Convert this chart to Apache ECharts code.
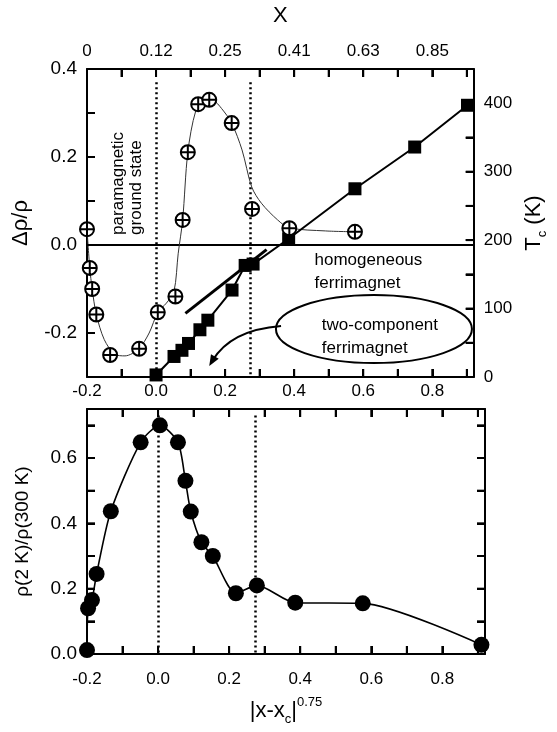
<!DOCTYPE html>
<html>
<head>
<meta charset="utf-8">
<script src="https://cdn.jsdelivr.net/npm/echarts@6/dist/echarts.min.js"></script>
<style>
html, body { margin: 0; padding: 0; background: #fff; }
#main { width: 557px; height: 732px; }
</style>
</head>
<body>
<div id="main"></div>
<script>
var FONT = 'Liberation Sans';

/* top panel: delta rho / rho (crossed circles) */
var drX = [-0.2, -0.192, -0.185, -0.173, -0.133, -0.049, 0.005, 0.056, 0.077, 0.092, 0.122, 0.154, 0.219, 0.278, 0.386, 0.576];
var drY = [0.036, -0.052, -0.100, -0.158, -0.250, -0.236, -0.153, -0.117, 0.057, 0.211, 0.320, 0.330, 0.277, 0.082, 0.038, 0.030];
/* thin guide curve through the circles */
var guideX = [-0.2, -0.192, -0.185, -0.173, -0.15, -0.12, -0.09, -0.05, -0.02, 0.005, 0.03, 0.052, 0.064, 0.077, 0.092, 0.115, 0.14, 0.165, 0.19, 0.219, 0.249, 0.277, 0.305, 0.352, 0.386, 0.49, 0.576];
var guideY = [0.036, -0.052, -0.100, -0.158, -0.215, -0.248, -0.252, -0.236, -0.200, -0.153, -0.132, -0.105, -0.020, 0.057, 0.211, 0.305, 0.333, 0.330, 0.310, 0.277, 0.216, 0.132, 0.095, 0.057, 0.039, 0.032, 0.030];
/* Tc (squares, right axis) */
var tcX = [0.0, 0.052, 0.075, 0.094, 0.127, 0.150, 0.220, 0.258, 0.281, 0.384, 0.576, 0.749, 0.902];
var tcY = [3, 30, 39, 49, 69, 83, 127, 163, 165, 202, 275, 336, 397];
/* bold straight line */
var fitX = [0.085, 0.32];
var fitY = [93, 186];
/* bottom panel: rho(2K)/rho(300K) */
var ratX = [-0.2, -0.197, -0.186, -0.173, -0.133, -0.049, 0.005, 0.056, 0.077, 0.092, 0.122, 0.154, 0.219, 0.278, 0.386, 0.576, 0.91];
var ratY = [0.012, 0.140, 0.165, 0.245, 0.437, 0.648, 0.700, 0.648, 0.530, 0.436, 0.342, 0.300, 0.186, 0.210, 0.157, 0.155, 0.028];
/* dotted phase boundaries */
var xcLines = [0, 0.274];
/* upper axis: x values */
var topTickPos = [-0.2, 0, 0.2, 0.4, 0.6, 0.8];
var topTickText = ['0', '0.12', '0.25', '0.41', '0.63', '0.85'];

/* axis ranges */
var X_MIN = -0.2, X_MAX = 0.92, X_STEP = 0.1;
var DR_MIN = -0.3, DR_MAX = 0.4, DR_STEP = 0.1;
var TC_MIN = 0, TC_MAX = 450, TC_STEP = 50;
var R_MIN = 0, R_MAX = 0.75, R_STEP = 0.1;

var myChart = echarts.init(document.getElementById('main'));

function pairs(xs, ys) {
  var out = [];
  for (var i = 0; i < xs.length; i++) out.push([xs[i], ys[i]]);
  return out;
}
function tenths(v) {
  var k = Math.round(v * 10);
  if (Math.abs(v * 10 - k) > 1e-6 || k % 2 !== 0) return '';
  return (k / 10).toFixed(1);
}
function hundreds(v) {
  return (v % 100 === 0) ? String(v) : '';
}
function topLabel(v) {
  for (var i = 0; i < topTickPos.length; i++) {
    if (Math.abs(v - topTickPos[i]) < 1e-6) return topTickText[i];
  }
  return '';
}
function dotted(ys, y0, y1) {
  var d = [];
  for (var i = 0; i < ys.length; i++) d.push([{ coord: [ys[i], y0] }, { coord: [ys[i], y1] }]);
  return d;
}

function axis(o) {
  var a = {
    type: 'value',
    axisLine: { onZero: false, lineStyle: { color: '#000', width: 2 } },
    axisTick: { show: true, inside: true, length: 8, lineStyle: { color: '#000', width: 2 } },
    axisLabel: { color: '#000', fontFamily: FONT, fontSize: 17 },
    splitLine: { show: false }
  };
  for (var k in o) {
    if (k === 'axisLabel') {
      for (var j in o[k]) a.axisLabel[j] = o[k][j];
    } else a[k] = o[k];
  }
  return a;
}

var richT = {
  a: { fontSize: 22, fontFamily: FONT, color: '#000', lineHeight: 30, verticalAlign: 'middle' },
  s: { fontSize: 13, fontFamily: FONT, color: '#000', lineHeight: 14, verticalAlign: 'bottom' },
  p: { fontSize: 13, fontFamily: FONT, color: '#000', lineHeight: 14, verticalAlign: 'top' }
};

// ring with a cross, drawn in a 14x14 box so the stroke is not rescaled
var CROSS_CIRCLE = 'path://M0,7A7,7,0,1,1,14,7A7,7,0,1,1,0,7ZM0,7L14,7M7,0L7,14';

option = {
  animation: false,
  grid: [
    { left: 87, right: 72, top: 69, height: 308 },
    { left: 87, right: 72, top: 409, height: 245 }
  ],
  xAxis: [
    axis({ gridIndex: 0, position: 'bottom', min: X_MIN, max: X_MAX, interval: X_STEP,
      axisLabel: { formatter: tenths, margin: 6 } }),
    axis({ gridIndex: 0, position: 'top', min: X_MIN, max: X_MAX, interval: X_STEP,
      axisLabel: { formatter: topLabel, margin: 9 },
      name: 'X', nameLocation: 'middle', nameGap: 42,
      nameTextStyle: { fontSize: 22, fontFamily: FONT, color: '#000' } }),
    axis({ gridIndex: 1, position: 'bottom', min: X_MIN, max: X_MAX, interval: X_STEP,
      axisLabel: { formatter: tenths, margin: 17 },
      name: '{a||x-x}{s|c}{a||}{p|0.75}', nameLocation: 'middle', nameGap: 42,
      nameTextStyle: { rich: richT } }),
    axis({ gridIndex: 1, position: 'top', min: X_MIN, max: X_MAX, interval: X_STEP,
      axisLabel: { show: false } })
  ],
  yAxis: [
    axis({ gridIndex: 0, position: 'left', min: DR_MIN, max: DR_MAX, interval: DR_STEP,
      axisLabel: { formatter: tenths, margin: 10, fontSize: 19 },
      name: '\u0394\u03c1/\u03c1', nameLocation: 'middle', nameGap: 55, nameRotate: 90,
      nameTextStyle: { fontSize: 22, fontFamily: FONT, color: '#000' } }),
    axis({ gridIndex: 0, position: 'right', min: TC_MIN, max: TC_MAX, interval: TC_STEP,
      axisLabel: { formatter: hundreds, margin: 10 },
      name: '{a|T}{s|c}{a| (K)}', nameLocation: 'middle', nameGap: 42, nameRotate: 90,
      nameTextStyle: { rich: richT } }),
    axis({ gridIndex: 1, position: 'left', min: R_MIN, max: R_MAX, interval: R_STEP,
      axisLabel: { formatter: tenths, margin: 10, fontSize: 19 },
      name: '\u03c1(2 K)/\u03c1(300 K)', nameLocation: 'middle', nameGap: 55, nameRotate: 90,
      nameTextStyle: { fontSize: 19, fontFamily: FONT, color: '#000' } }),
    axis({ gridIndex: 1, position: 'right', min: R_MIN, max: R_MAX, interval: R_STEP,
      axisLabel: { show: false } })
  ],
  series: [
    {
      type: 'line', xAxisIndex: 0, yAxisIndex: 0, z: 1, silent: true,
      data: pairs(guideX, guideY), smooth: 0.3, symbol: 'none',
      lineStyle: { color: '#333', width: 1 },
      markLine: {
        silent: true, symbol: 'none', z: 1, label: { show: false },
        lineStyle: { color: '#000', width: 2, type: 'solid' },
        data: [{ yAxis: 0 }]
      }
    },
    {
      type: 'scatter', xAxisIndex: 0, yAxisIndex: 0, z: 4,
      data: pairs(drX, drY), symbol: CROSS_CIRCLE, symbolSize: 14,
      itemStyle: { color: '#fff', borderColor: '#000', borderWidth: 2, opacity: 1 },
      markLine: {
        silent: true, symbol: 'none', z: 1, label: { show: false },
        lineStyle: { color: '#000', width: 2.5, type: [2, 3] },
        data: dotted(xcLines, 0.37, -0.3)
      }
    },
    {
      type: 'line', xAxisIndex: 0, yAxisIndex: 1, z: 3,
      data: pairs(tcX, tcY), symbol: 'rect', symbolSize: 13,
      itemStyle: { color: '#000' }, lineStyle: { color: '#000', width: 2 }
    },
    {
      type: 'line', xAxisIndex: 0, yAxisIndex: 1, z: 3,
      data: pairs(fitX, fitY), symbol: 'none',
      lineStyle: { color: '#000', width: 3 }
    },
    {
      type: 'line', xAxisIndex: 2, yAxisIndex: 2, z: 3,
      data: pairs(ratX, ratY), smooth: 0.25, symbol: 'circle', symbolSize: 16,
      itemStyle: { color: '#000' }, lineStyle: { color: '#000', width: 1.6 },
      markLine: {
        silent: true, symbol: 'none', z: 1, label: { show: false },
        lineStyle: { color: '#000', width: 2.5, type: [2, 3] },
        data: dotted(xcLines, 0.73, 0)
      }
    }
  ]
};
myChart.setOption(option);

/* annotations, placed in (x, delta rho / rho) coordinates of the top panel */
function px(x, y) {
  return myChart.convertToPixel({ xAxisIndex: 0, yAxisIndex: 0 }, [x, y]);
}
function label(txt, x, y, rot) {
  var p = px(x, y);
  return {
    type: 'text', x: p[0], y: p[1], rotation: rot || 0, z: 10,
    style: { text: txt, fill: '#000', font: '17px "Liberation Sans"',
      align: 'left', textAlign: 'left', verticalAlign: 'middle', textVerticalAlign: 'middle' }
  };
}

/* inward tick marks, placed through the axes' own scales */
var TICK = 8;
function tickLine(p, dx, dy) {
  return { type: 'line', z: 9, silent: true,
    shape: { x1: p[0], y1: p[1], x2: p[0] + dx, y2: p[1] + dy },
    style: { stroke: '#000', lineWidth: 2 } };
}
function xTicks(xi, yi, yEdge, dir) {
  var out = [];
  var n = Math.floor((X_MAX - X_MIN) / X_STEP + 1e-6);
  for (var i = 0; i <= n; i++) {
    var v = X_MIN + i * X_STEP;
    var p = myChart.convertToPixel({ xAxisIndex: xi, yAxisIndex: yi }, [v, yEdge]);
    out.push(tickLine(p, 0, dir * TICK));
  }
  return out;
}
function yTicks(xi, yi, xEdge, dir, lo, hi, step) {
  var out = [];
  var n = Math.floor((hi - lo) / step + 1e-6);
  for (var i = 0; i <= n; i++) {
    var v = lo + i * step;
    var p = myChart.convertToPixel({ xAxisIndex: xi, yAxisIndex: yi }, [xEdge, v]);
    out.push(tickLine(p, dir * TICK, 0));
  }
  return out;
}
var ticks = [].concat(
  xTicks(0, 0, DR_MIN, -1), xTicks(0, 0, DR_MAX, 1),
  yTicks(0, 0, X_MIN, 1, DR_MIN, DR_MAX, DR_STEP),
  yTicks(0, 1, X_MAX, -1, TC_MIN, TC_MAX, TC_STEP),
  xTicks(2, 2, R_MIN, -1), xTicks(2, 2, R_MAX, 1),
  yTicks(2, 2, X_MIN, 1, R_MIN, R_MAX, R_STEP),
  yTicks(2, 2, X_MAX, -1, R_MIN, R_MAX, R_STEP)
);

var ec = px(0.631, -0.191);
var a0 = px(0.362, -0.184), a1 = px(0.216, -0.193), a2 = px(0.154, -0.275);
var dx = a2[0] - a1[0], dy = a2[1] - a1[1], L = Math.sqrt(dx * dx + dy * dy);
var ux = dx / L, uy = dy / L, hl = 11, hw = 4.5;
myChart.setOption({
  graphic: ticks.concat([
    label('paramagnetic', -0.110, 0.023, Math.PI / 2),
    label('ground state', -0.057, 0.023, Math.PI / 2),
    label('homogeneous', 0.459, -0.034),
    label('ferrimagnet', 0.459, -0.086),
    label('two-component', 0.480, -0.182),
    label('ferrimagnet', 0.480, -0.234),
    { type: 'ellipse', z: 10, shape: { cx: ec[0], cy: ec[1], rx: 98, ry: 34 },
      style: { fill: 'none', stroke: '#000', lineWidth: 2 } },
    { type: 'bezierCurve', z: 10,
      shape: { x1: a0[0], y1: a0[1], cpx1: a1[0], cpy1: a1[1], x2: a2[0] - ux * 6, y2: a2[1] - uy * 6 },
      style: { fill: 'none', stroke: '#000', lineWidth: 2 } },
    { type: 'polygon', z: 10,
      shape: { points: [
        [a2[0], a2[1]],
        [a2[0] - ux * hl - uy * hw, a2[1] - uy * hl + ux * hw],
        [a2[0] - ux * hl + uy * hw, a2[1] - uy * hl - ux * hw]
      ] },
      style: { fill: '#000' } }
  ])
});
</script>
</body>
</html>
